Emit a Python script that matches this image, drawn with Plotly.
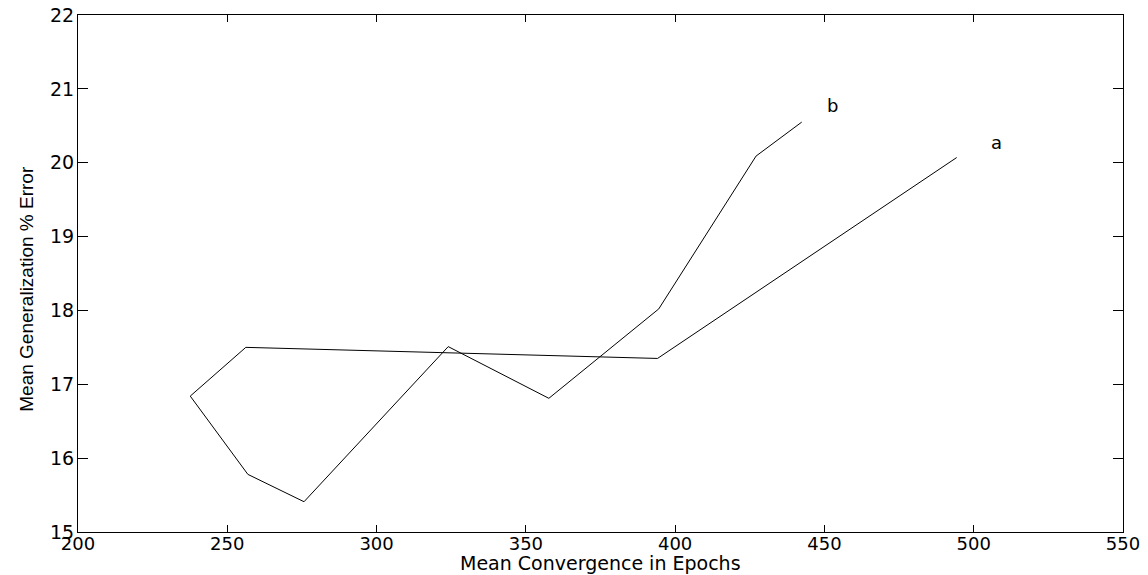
import plotly.graph_objects as go

# Series data
a_x = [237.6, 256.2, 394.1, 494.3]
a_y = [16.84, 17.50, 17.35, 20.07]
b_x = [237.6, 256.9, 275.7, 324.0, 357.7, 394.5, 427.1, 442.4]
b_y = [16.84, 15.78, 15.41, 17.51, 16.81, 18.02, 20.09, 20.55]

labels = ["a", "b"]
label_x = [507.6, 452.7]
label_y = [20.28, 20.78]

x_ticks = [200, 250, 300, 350, 400, 450, 500, 550]
y_ticks = [15, 16, 17, 18, 19, 20, 21, 22]

x_title = "Mean Convergence in Epochs"
y_title = "Mean Generalization % Error"

FONT = "DejaVu Sans"

fig = go.Figure()
fig.add_trace(go.Scatter(x=a_x, y=a_y, mode="lines",
                         line=dict(color="black", width=1), showlegend=False))
fig.add_trace(go.Scatter(x=b_x, y=b_y, mode="lines",
                         line=dict(color="black", width=1), showlegend=False))

for t, lx, ly in zip(labels, label_x, label_y):
    fig.add_annotation(x=lx, y=ly, text=t, showarrow=False,
                       font=dict(family=FONT, size=18, color="black"),
                       xanchor="center", yanchor="middle")

axis_common = dict(showgrid=False, zeroline=False, showline=True, linecolor="black",
                   linewidth=1, mirror="ticks", ticks="inside", tickcolor="black",
                   automargin=False)

fig.update_xaxes(range=[200, 550], tickvals=x_ticks, ticklen=7,
                 ticklabelstandoff=-5,
                 tickfont=dict(family=FONT, size=18, color="black"), **axis_common)
fig.update_yaxes(range=[15, 22], tickvals=y_ticks, ticklen=10,
                 ticklabelstandoff=-1,
                 tickfont=dict(family=FONT, size=19, color="black"), **axis_common)

fig.add_annotation(xref="paper", yref="paper", x=0.5, y=-0.059, text=x_title,
                   showarrow=False, xanchor="center", yanchor="middle",
                   font=dict(family=FONT, size=19, color="black"))
fig.add_annotation(xref="paper", yref="paper", x=-0.05, y=0.47, text=y_title,
                   showarrow=False, textangle=-90, xanchor="center", yanchor="middle",
                   font=dict(family="Liberation Sans", size=19, color="black"))

fig.update_layout(width=1148, height=575, plot_bgcolor="white", paper_bgcolor="white",
                  margin=dict(l=78, r=25, t=15, b=43, autoexpand=False))

fig.write_html("out.html")
